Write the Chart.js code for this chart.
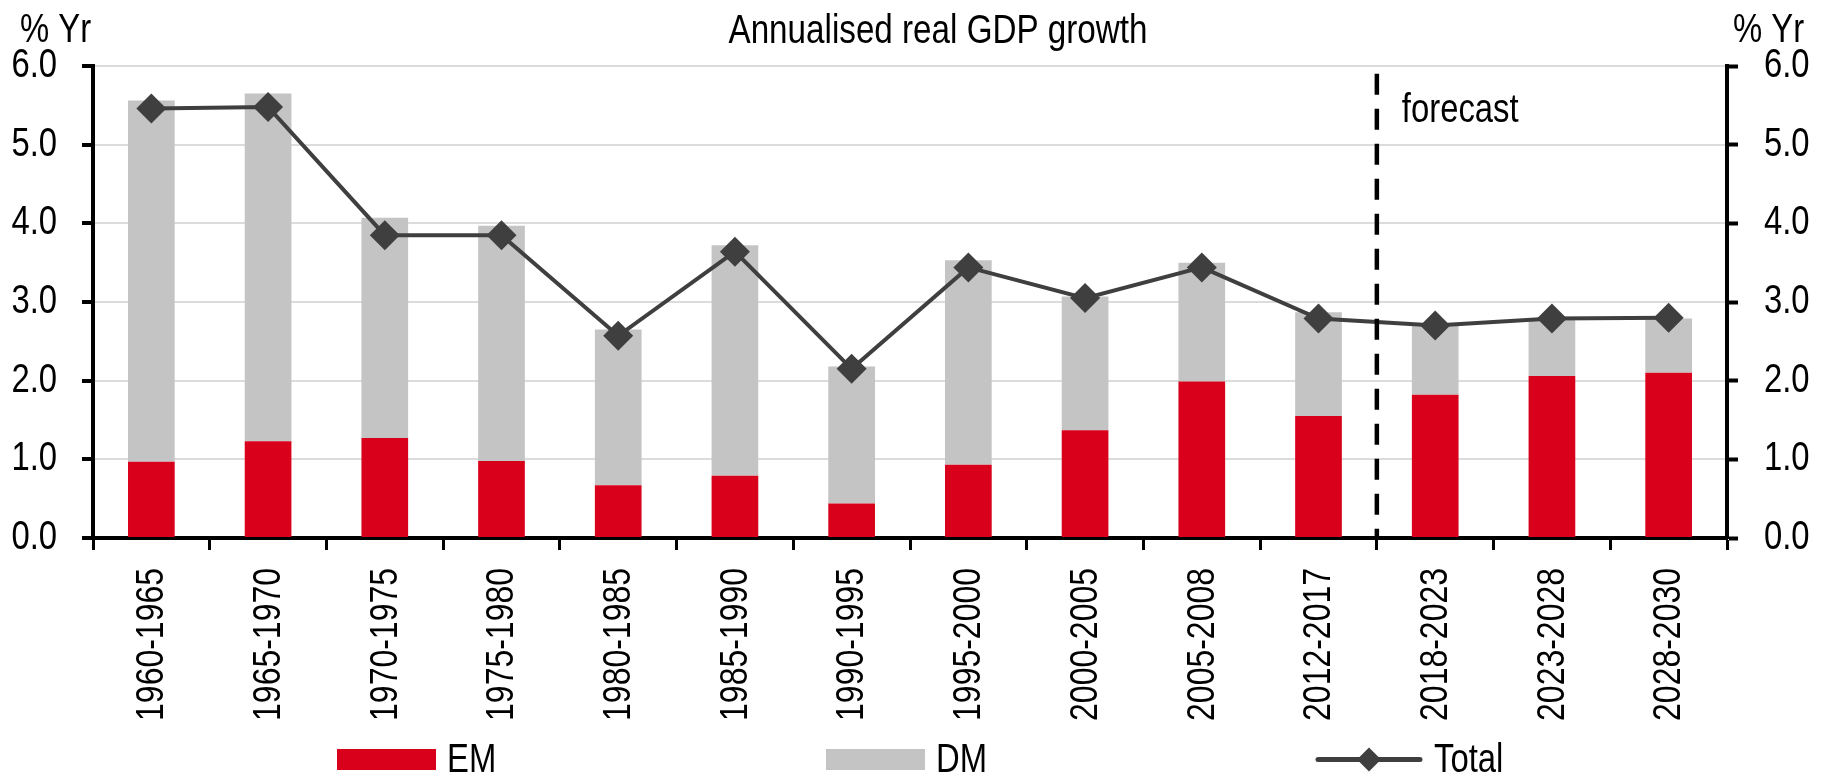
<!DOCTYPE html>
<html>
<head>
<meta charset="utf-8">
<script src="https://cdn.jsdelivr.net/npm/chart.js@4.4.1/dist/chart.umd.min.js"></script>
<style>
  html, body { margin: 0; padding: 0; background: #ffffff; }
  #wrap { position: relative; width: 1828px; height: 777px; }
</style>
</head>
<body>
<div id="wrap"><canvas id="c" width="1828" height="777"></canvas></div>
<script>
const categories = ['1960-1965','1965-1970','1970-1975','1975-1980','1980-1985','1985-1990','1990-1995','1995-2000','2000-2005','2005-2008','2012-2017','2018-2023','2023-2028','2028-2030'];
const emValues = [0.97, 1.23, 1.27, 0.98, 0.67, 0.79, 0.44, 0.93, 1.37, 1.99, 1.55, 1.82, 2.06, 2.10];
const dmValues = [4.59, 4.42, 2.80, 2.99, 1.98, 2.93, 1.74, 2.60, 1.70, 1.51, 1.32, 0.89, 0.72, 0.69];
const totalValues = [5.46, 5.48, 3.85, 3.85, 2.57, 3.64, 2.15, 3.44, 3.05, 3.44, 2.79, 2.70, 2.79, 2.80];
const yTicks = [0, 1, 2, 3, 4, 5, 6];
const titleText = 'Annualised real GDP growth';
const unitText = '% Yr';
const forecastText = 'forecast';
const forecastStartIndex = 11;

// Arial-Narrow look: Liberation Sans (Arial metrics) squeezed horizontally
const FONT = "'Liberation Sans', Arial, sans-serif";
const NARROW = 0.82;
const RED = '#d9001b';
const GREY = '#c4c4c4';
const DARK = '#3f3f3f';

function narrowText(ctx, text, x, y, align, size, rotate) {
  ctx.save();
  ctx.font = size + 'px ' + FONT;
  ctx.textAlign = align;
  ctx.translate(x, y);
  if (rotate) ctx.rotate(rotate);
  ctx.scale(NARROW, 1);
  ctx.fillText(text, 0, 0);
  ctx.restore();
}

const overlay = {
  id: 'overlay',
  afterDraw(chart) {
    const ctx = chart.ctx;
    const area = chart.chartArea;
    const x = chart.scales.x;
    const y = chart.scales.y;
    const y2 = chart.scales.y2;
    ctx.save();
    ctx.fillStyle = '#000';

    // tick labels (drawn narrow)
    ctx.textBaseline = 'middle';
    y.ticks.forEach((t, i) => {
      narrowText(ctx, Number(t.value).toFixed(1), area.left - 36, y.getPixelForTick(i), 'right', 40);
    });
    y2.ticks.forEach((t, i) => {
      narrowText(ctx, Number(t.value).toFixed(1), area.right + 37, y2.getPixelForTick(i), 'left', 40);
    });
    x.ticks.forEach((t, i) => {
      const lbl = categories[t.value];
      narrowText(ctx, lbl, x.getPixelForValue(t.value) + 1, area.bottom + 30, 'right', 39, -Math.PI / 2);
    });

    // forecast divider
    const fx = (x.getPixelForValue(forecastStartIndex - 1) + x.getPixelForValue(forecastStartIndex)) / 2;
    ctx.strokeStyle = '#000';
    ctx.lineWidth = 4.5;
    ctx.setLineDash([21, 14]);
    ctx.beginPath();
    ctx.moveTo(fx, y.getPixelForValue(5.9));
    ctx.lineTo(fx, area.bottom);
    ctx.stroke();
    ctx.setLineDash([]);

    ctx.textBaseline = 'alphabetic';
    narrowText(ctx, forecastText, fx + 25, 122, 'left', 40);
    narrowText(ctx, titleText, 938, 43, 'center', 40.5);
    narrowText(ctx, unitText, 20, 42, 'left', 40);
    narrowText(ctx, unitText, area.right + 6, 42, 'left', 40);

    // legend
    const ds = chart.data.datasets;
    const legendY = 759.5;
    const items = [
      {ds: ds.find(d => d.label === 'EM'), x: 337},
      {ds: ds.find(d => d.label === 'DM'), x: 826},
      {ds: ds.find(d => d.label === 'Total'), x: 1318}
    ];
    ctx.textBaseline = 'middle';
    items.forEach(it => {
      if (it.ds.type === 'line') {
        ctx.strokeStyle = it.ds.borderColor;
        ctx.lineWidth = 5;
        ctx.lineCap = 'round';
        ctx.beginPath();
        ctx.moveTo(it.x, legendY);
        ctx.lineTo(it.x + 102, legendY);
        ctx.stroke();
        const cx = it.x + 51, r = 12;
        ctx.fillStyle = it.ds.pointBackgroundColor;
        ctx.beginPath();
        ctx.moveTo(cx - r, legendY);
        ctx.lineTo(cx, legendY - r);
        ctx.lineTo(cx + r, legendY);
        ctx.lineTo(cx, legendY + r);
        ctx.closePath();
        ctx.fill();
        ctx.fillStyle = '#000';
        narrowText(ctx, it.ds.label, it.x + 116, legendY + 1, 'left', 40);
      } else {
        ctx.fillStyle = it.ds.backgroundColor;
        ctx.fillRect(it.x, legendY - 10.5, 99, 21);
        ctx.fillStyle = '#000';
        narrowText(ctx, it.ds.label, it.x + 110, legendY + 1, 'left', 40);
      }
    });
    ctx.restore();
  }
};

new Chart(document.getElementById('c'), {
  data: {
    labels: categories,
    datasets: [
      {
        type: 'line', label: 'Total', data: totalValues, yAxisID: 'y2', order: 0,
        borderColor: DARK, borderWidth: 4, pointStyle: 'rectRot', pointRadius: 15,
        pointBackgroundColor: DARK, pointBorderWidth: 0, pointHoverRadius: 15, tension: 0, fill: false
      },
      {
        type: 'bar', label: 'EM', data: emValues, yAxisID: 'y', order: 1,
        backgroundColor: RED, borderWidth: 0, categoryPercentage: 1, barPercentage: 0.4
      },
      {
        type: 'bar', label: 'DM', data: dmValues, yAxisID: 'y', order: 2,
        backgroundColor: GREY, borderWidth: 0, categoryPercentage: 1, barPercentage: 0.4
      }
    ]
  },
  options: {
    responsive: false,
    animation: false,
    events: [],
    layout: { padding: { top: 66, left: 0, right: 0, bottom: 0 } },
    plugins: { legend: { display: false }, title: { display: false }, tooltip: { enabled: false } },
    scales: {
      x: {
        type: 'category',
        stacked: true,
        offset: true,
        grid: { display: true, offset: true, drawOnChartArea: false, drawTicks: true, tickLength: 12, tickColor: '#000', tickWidth: 3 },
        border: { display: true, color: '#000', width: 4 },
        ticks: { display: false, autoSkip: false },
        afterFit(scale) { scale.height = 239; }
      },
      y: {
        position: 'left', stacked: true, min: 0, max: 6,
        afterBuildTicks(scale) { scale.ticks = yTicks.map(v => ({ value: v })); },
        grid: { color: '#dcdcdc', lineWidth: 2, drawTicks: true, tickLength: 11, tickColor: '#000', tickWidth: 4 },
        border: { display: true, color: '#000', width: 4 },
        ticks: { display: false },
        afterFit(scale) { scale.width = 93; }
      },
      y2: {
        position: 'right', min: 0, max: 6,
        afterBuildTicks(scale) { scale.ticks = yTicks.map(v => ({ value: v })); },
        grid: { drawOnChartArea: false, drawTicks: true, tickLength: 11, tickColor: '#000', tickWidth: 4 },
        border: { display: true, color: '#000', width: 4 },
        ticks: { display: false },
        afterFit(scale) { scale.width = 101; }
      }
    }
  },
  plugins: [overlay]
});
</script>
</body>
</html>
